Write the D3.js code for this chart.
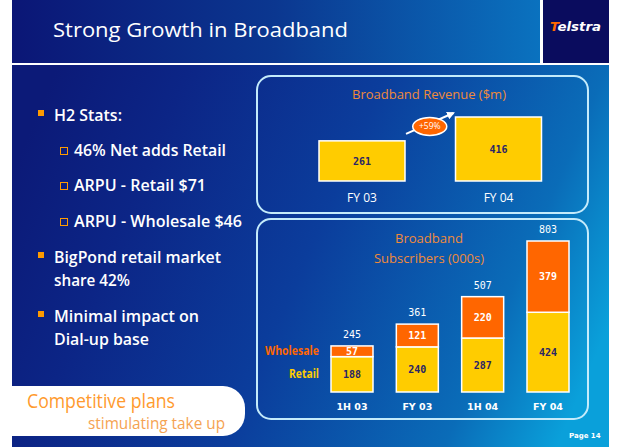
<!DOCTYPE html>
<html><head><meta charset="utf-8">
<script src="https://cdn.jsdelivr.net/npm/d3@7"></script>
<style>
html,body{margin:0;padding:0;background:#fff;}
svg{display:block;}
</style></head>
<body>
<script>
// ---------- data ----------
const titleText = "Strong Growth in Broadband";
const revTitle = "Broadband Revenue ($m)";
const revCategories = ["FY 03", "FY 04"];
const revValues = [261, 416];
const revGrowth = "+59%";

const subTitle = ["Broadband", "Subscribers (000s)"];
const subCategories = ["1H 03", "FY 03", "1H 04", "FY 04"];
const retailValues = [188, 240, 287, 424];
const wholesaleValues = [57, 121, 220, 379];
const totalValues = [245, 361, 507, 803];
const seriesNames = ["Wholesale", "Retail"];

const bullets = [
  {level: 1, lines: ["H2 Stats:"]},
  {level: 2, lines: ["46% Net adds Retail"]},
  {level: 2, lines: ["ARPU - Retail $71"]},
  {level: 2, lines: ["ARPU - Wholesale $46"]},
  {level: 1, lines: ["BigPond retail market", "share 42%"]},
  {level: 1, lines: ["Minimal impact on", "Dial-up base"]}
];
const calloutLines = ["Competitive plans", "stimulating take up"];
const pageLabel = "Page 14";

// ---------- layout ----------
const W = 619, H = 447;
const svg = d3.select("body").append("svg").attr("width", W).attr("height", H);
const defs = svg.append("defs");

const gBody = defs.append("linearGradient").attr("id", "gBody")
  .attr("gradientUnits", "userSpaceOnUse")
  .attr("x1", 60).attr("y1", 60).attr("x2", 620).attr("y2", 300);
gBody.append("stop").attr("offset", "0").attr("stop-color", "#0c1a78");
gBody.append("stop").attr("offset", "0.2").attr("stop-color", "#0c2586");
gBody.append("stop").attr("offset", "0.5").attr("stop-color", "#0b3d9c");
gBody.append("stop").attr("offset", "0.83").attr("stop-color", "#0a6cb8");
gBody.append("stop").attr("offset", "1").attr("stop-color", "#0aa0da");

const gHead = defs.append("linearGradient").attr("id", "gHead")
  .attr("x1", "0").attr("y1", "0").attr("x2", "1").attr("y2", "0");
gHead.append("stop").attr("offset", "0").attr("stop-color", "#0b1676");
gHead.append("stop").attr("offset", "0.5").attr("stop-color", "#0b3790");
gHead.append("stop").attr("offset", "1").attr("stop-color", "#0a72bf");

const arrowM = defs.append("marker").attr("id", "arr").attr("viewBox", "0 0 10 10")
  .attr("refX", 8).attr("refY", 5).attr("markerWidth", 4).attr("markerHeight", 4)
  .attr("orient", "auto");
arrowM.append("path").attr("d", "M0,0L10,5L0,10z").attr("fill", "#fff");

// backgrounds
svg.append("rect").attr("x", 12).attr("y", 0).attr("width", 528).attr("height", 63).attr("fill", "url(#gHead)");
svg.append("rect").attr("x", 543).attr("y", 0).attr("width", 66).attr("height", 63).attr("fill", "#0a0c5e");
svg.append("rect").attr("x", 12).attr("y", 65).attr("width", 597).attr("height", H - 65).attr("fill", "url(#gBody)");

// header title
svg.append("text").attr("x", 53).attr("y", 37).text(titleText)
  .attr("font-family", "'Open Sans', sans-serif").attr("font-size", 20)
  .attr("fill", "#fff").attr("textLength", 295).attr("lengthAdjust", "spacingAndGlyphs");

// logo
const logo = svg.append("text").attr("x", 550).attr("y", 31)
  .attr("font-family", "'DejaVu Sans', sans-serif").attr("font-weight", "bold")
  .attr("font-style", "italic").attr("font-size", 12.5)
  .attr("textLength", 51).attr("lengthAdjust", "spacingAndGlyphs");
logo.append("tspan").attr("fill", "#ff6a00").text("T");
logo.append("tspan").attr("fill", "#fff").text("elstra");

// ---------- bullets ----------
const bulletFont = "'Open Sans', sans-serif";
const bulletY = [121, 156, 191, 227, 263, 322];
const lineWidths = {"H2 Stats:": 68, "46% Net adds Retail": 152, "ARPU - Retail $71": 132,
  "ARPU - Wholesale $46": 168, "BigPond retail market": 167, "share 42%": 76,
  "Minimal impact on": 145, "Dial-up base": 95};
const gB = svg.append("g");
bullets.forEach((b, i) => {
  const y = bulletY[i];
  if (b.level === 1) {
    gB.append("rect").attr("x", 38).attr("y", y - 11).attr("width", 6).attr("height", 6).attr("fill", "#ff9a00");
  } else {
    gB.append("rect").attr("x", 60.5).attr("y", y - 8.5).attr("width", 7).attr("height", 7)
      .attr("fill", "none").attr("stroke", "#ff9a00").attr("stroke-width", 1);
  }
  b.lines.forEach((ln, j) => {
    gB.append("text").attr("x", b.level === 1 ? 54 : 74).attr("y", y + j * 23).text(ln)
      .attr("font-family", bulletFont).attr("font-size", 17).attr("font-weight", 600)
      .attr("fill", "#fff").attr("textLength", lineWidths[ln]).attr("lengthAdjust", "spacingAndGlyphs");
  });
});

// callout
const cx0 = 12, cy0 = 386, cx1 = 245, cy1 = 436, cr = 22;
svg.append("path").attr("fill", "#fff")
  .attr("d", `M${cx0},${cy0}H${cx1 - cr}A${cr},${cr} 0 0 1 ${cx1},${cy0 + cr}V${cy1 - cr}A${cr},${cr} 0 0 1 ${cx1 - cr},${cy1}H${cx0}Z`);
svg.append("text").attr("x", 27).attr("y", 408).text(calloutLines[0])
  .attr("font-family", bulletFont).attr("font-size", 20).attr("fill", "#ff9a2e")
  .attr("textLength", 148).attr("lengthAdjust", "spacingAndGlyphs");
svg.append("text").attr("x", 88).attr("y", 429).text(calloutLines[1])
  .attr("font-family", bulletFont).attr("font-size", 16).attr("fill", "#f5a352")
  .attr("textLength", 137).attr("lengthAdjust", "spacingAndGlyphs");

// page label
svg.append("text").attr("x", 569).attr("y", 438).text(pageLabel)
  .attr("font-family", "'DejaVu Sans', sans-serif").attr("font-weight", "bold")
  .attr("font-size", 7).attr("fill", "#fff");

// panels
const panelStroke = "#c4ebfb";
[[257, 76, 331, 137], [257, 219, 331, 200]].forEach(p => {
  svg.append("rect").attr("x", p[0]).attr("y", p[1]).attr("width", p[2]).attr("height", p[3])
    .attr("rx", 14).attr("fill", "none").attr("stroke", panelStroke).attr("stroke-width", 2);
});

const titleColor = "#ef8a3a";
const numFont = "'DejaVu Sans Mono', monospace";

// ---------- revenue chart ----------
svg.append("text").attr("x", 429).attr("y", 99).attr("text-anchor", "middle").text(revTitle)
  .attr("font-family", bulletFont).attr("font-size", 13).attr("fill", titleColor)
  .attr("textLength", 154).attr("lengthAdjust", "spacingAndGlyphs");

const xRev = d3.scaleBand().domain(revCategories).range([319, 541.5]).paddingInner(0.37).paddingOuter(0);
const yRev = d3.scaleLinear().domain([0, 416]).range([181, 117]);

const gRev = svg.append("g");
gRev.selectAll("rect").data(revValues).join("rect")
  .attr("x", (d, i) => xRev(revCategories[i])).attr("y", d => yRev(d))
  .attr("width", xRev.bandwidth()).attr("height", d => yRev(0) - yRev(d))
  .attr("fill", "#ffcc00").attr("stroke", "#fff").attr("stroke-width", 1.5);
gRev.selectAll("text.v").data(revValues).join("text").attr("class", "v")
  .attr("x", (d, i) => xRev(revCategories[i]) + xRev.bandwidth() / 2)
  .attr("y", d => (yRev(d) + yRev(0)) / 2 + 4).attr("text-anchor", "middle").text(d => d)
  .attr("font-family", numFont).attr("font-weight", "bold").attr("font-size", 10).attr("fill", "#2a2466");

const axRev = svg.append("g").attr("transform", "translate(0,191)")
  .call(d3.axisBottom(xRev).tickSize(0).tickPadding(0));
axRev.select(".domain").remove();
axRev.selectAll("text").attr("dy", "0.9em").attr("font-family", bulletFont).attr("font-size", 12)
  .attr("fill", "#fff");

// growth arrow
const aStart = [xRev("FY 03") + xRev.bandwidth() + 1, yRev(261) - 7];
const aEnd = [xRev("FY 04") - 2, yRev(416) - 4];
svg.append("line").attr("x1", aStart[0]).attr("y1", aStart[1]).attr("x2", aEnd[0]).attr("y2", aEnd[1])
  .attr("stroke", "#fff").attr("stroke-width", 2).attr("marker-end", "url(#arr)");
const ex = (aStart[0] + aEnd[0]) / 2, ey = (aStart[1] + aEnd[1]) / 2 + 3;
svg.append("ellipse").attr("cx", ex).attr("cy", ey).attr("rx", 17).attr("ry", 9)
  .attr("fill", "#ff6600").attr("stroke", "#fff").attr("stroke-width", 1.5);
svg.append("text").attr("x", ex).attr("y", ey + 3).attr("text-anchor", "middle").text(revGrowth)
  .attr("font-family", bulletFont).attr("font-size", 8.5).attr("fill", "#fff");

// ---------- subscribers chart ----------
subTitle.forEach((t, i) => {
  svg.append("text").attr("x", 429).attr("y", 243 + i * 20).attr("text-anchor", "middle").text(t)
    .attr("font-family", bulletFont).attr("font-size", 13).attr("fill", titleColor)
    .attr("textLength", i === 0 ? 68 : 110).attr("lengthAdjust", "spacingAndGlyphs");
});

const xSub = d3.scaleBand().domain(subCategories).range([331, 569]).paddingInner(0.357).paddingOuter(0);
const ySub = d3.scaleLinear().domain([0, 803]).range([392, 241]);
const stackData = subCategories.map((c, i) => ({cat: c, Retail: retailValues[i], Wholesale: wholesaleValues[i]}));
const stacked = d3.stack().keys(["Retail", "Wholesale"])(stackData);
const segColor = {Retail: "#ffcc00", Wholesale: "#ff6600"};
const segText = {Retail: "#2a2466", Wholesale: "#fff"};

const gSub = svg.append("g");
stacked.forEach(layer => {
  const key = layer.key;
  gSub.append("g").selectAll("rect").data(layer).join("rect")
    .attr("x", d => xSub(d.data.cat)).attr("y", d => ySub(d[1]))
    .attr("width", xSub.bandwidth()).attr("height", d => ySub(d[0]) - ySub(d[1]))
    .attr("fill", segColor[key]).attr("stroke", "#fff").attr("stroke-width", 1.5);
  gSub.append("g").selectAll("text").data(layer).join("text")
    .attr("x", d => xSub(d.data.cat) + xSub.bandwidth() / 2)
    .attr("y", d => (ySub(d[0]) + ySub(d[1])) / 2 + 3.8).attr("text-anchor", "middle")
    .text(d => d[1] - d[0])
    .attr("font-family", numFont).attr("font-weight", "bold").attr("font-size", 10).attr("fill", segText[key]);
});
gSub.append("g").selectAll("text").data(totalValues).join("text")
  .attr("x", (d, i) => xSub(subCategories[i]) + xSub.bandwidth() / 2)
  .attr("y", d => ySub(d) - 8).attr("text-anchor", "middle").text(d => d)
  .attr("font-family", numFont).attr("font-size", 10).attr("fill", "#fff");

const axSub = svg.append("g").attr("transform", "translate(0,401)")
  .call(d3.axisBottom(xSub).tickSize(0).tickPadding(0));
axSub.select(".domain").remove();
axSub.selectAll("text").attr("dy", "0.9em").attr("font-family", "'DejaVu Sans', sans-serif")
  .attr("font-weight", "bold").attr("font-size", 9.5).attr("fill", "#fff");

// series labels
const lblY = {Wholesale: (ySub(retailValues[0]) + ySub(totalValues[0])) / 2 + 4,
              Retail: (ySub(0) + ySub(retailValues[0])) / 2 + 4};
seriesNames.forEach(s => {
  svg.append("text").attr("x", 319).attr("y", lblY[s]).attr("text-anchor", "end").text(s)
    .attr("font-family", bulletFont).attr("font-weight", "bold").attr("font-size", 11.5)
    .attr("fill", segColor[s]).attr("textLength", s === "Wholesale" ? 54 : 30)
    .attr("lengthAdjust", "spacingAndGlyphs");
});
</script>
</body></html>
